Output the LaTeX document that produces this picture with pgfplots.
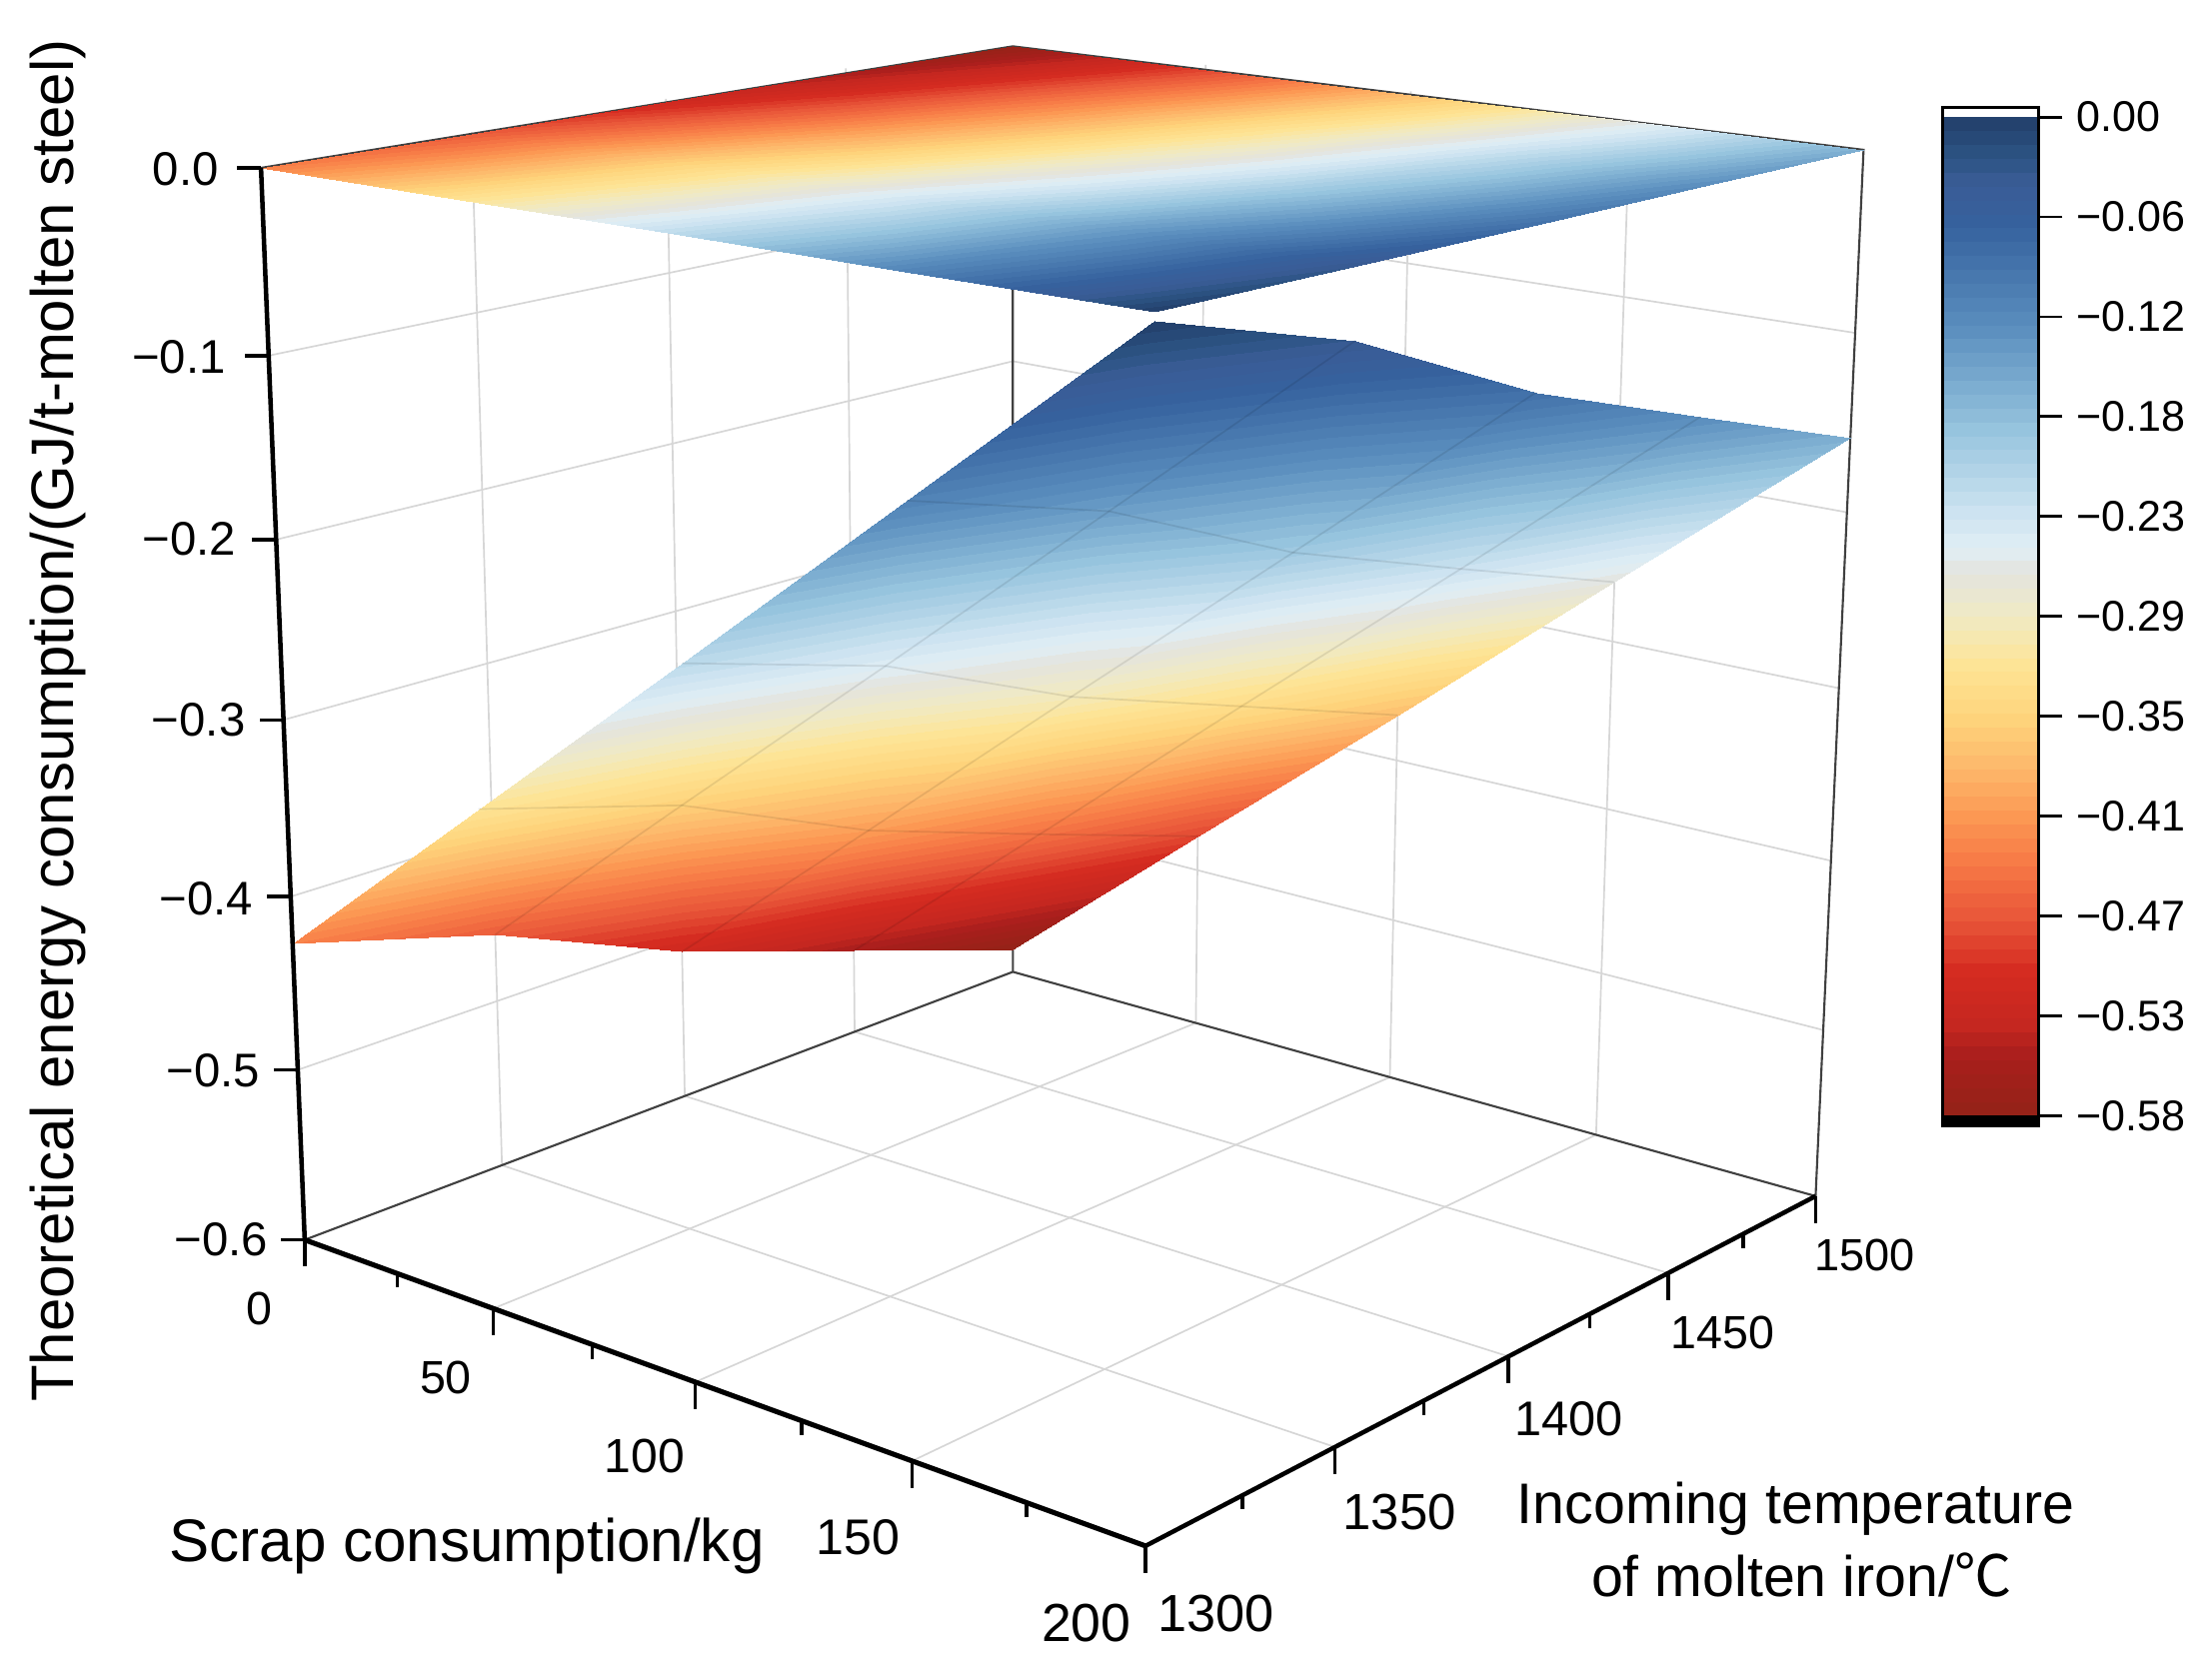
\documentclass[border=0pt]{standalone}
\usepackage{fontspec}
\setmainfont{Liberation Sans}
\newfontfamily\cjk{Noto Sans CJK SC}
\usepackage{pgfplots}
\usepackage{pgfplotstable}
\pgfplotsset{compat=1.18}

% colour scale, position = (value+0.58)*1000
\pgfplotsset{
  colormap={rb}{
    rgb255(0)=(150,34,24) rgb255(30)=(168,30,28) rgb255(50)=(198,40,32)
    rgb255(80)=(212,42,32) rgb255(110)=(232,84,56) rgb255(140)=(245,116,68)
    rgb255(170)=(252,150,82) rgb255(200)=(253,183,106) rgb255(230)=(254,212,124)
    rgb255(260)=(254,228,148) rgb255(290)=(240,234,196) rgb255(315)=(228,228,222)
    rgb255(330)=(224,238,245) rgb255(350)=(206,228,241) rgb255(400)=(150,196,222)
    rgb255(460)=(90,142,190) rgb255(520)=(54,98,158) rgb255(545)=(58,92,150)
    rgb255(560)=(44,84,132) rgb255(580)=(36,66,110)
  },
  colormap={bands}{samples of colormap=(72 of rb)},
}

% perspective of the 3D box onto the picture, in reference pixels
\pgfplotsset{
  /pgf/declare function={
    dn(\a,\b,\c)=1-0.13252*\a/200+0.15808*(\b-1300)/200-0.058*(\c+0.6)/0.6;
    px(\a,\b,\c)=(216+488.39*\a/200+615.5*(\b-1300)/200-41.73*(\c+0.6)/0.6)/dn(\a,\b,\c);
    py(\a,\b,\c)=(879+71.76*\a/200-81.08*(\b-1300)/200-766.9*(\c+0.6)/0.6)/dn(\a,\b,\c);
  },
  /pgfplots/table/proj/.style={
    x expr={px(\thisrow{x},\thisrow{y},\thisrow{z})},
    y expr={py(\thisrow{x},\thisrow{y},\thisrow{z})},
    row sep=\\,
  },
  /pgfplots/table/projtop/.style={
    x expr={px(\thisrow{x},\thisrow{y},\thisrow{zt})},
    y expr={py(\thisrow{x},\thisrow{y},\thisrow{zt})},
  },
  /pgfplots/table/projlow/.style={
    x expr={px(\thisrow{x},\thisrow{y},\thisrow{z})},
    y expr={py(\thisrow{x},\thisrow{y},\thisrow{z})},
  },
  /pgfplots/table/projtick/.style={
    x expr={px(\thisrow{x},\thisrow{y},\thisrow{z})+\thisrow{dx}},
    y expr={py(\thisrow{x},\thisrow{y},\thisrow{z})+\thisrow{dy}},
    row sep=\\,
  },
  gridline/.style={color=black!16,line width=1.2pt},
  meshline/.style={color=black,opacity=0.09,line width=1.2pt},
  edge/.style={color=black!75,line width=1.5pt},
  axline/.style={color=black,line width=3.2pt},
  tickline/.style={color=black,line width=2.4pt},
}

\pgfplotstableread{
x y z zt
0 1300 -0.427 0
50 1300 -0.320 0.001
100 1300 -0.214 0.002
150 1300 -0.107 0.003
200 1300 0.000 0.004
0 1350 -0.460 -0.001
50 1350 -0.353 0
100 1350 -0.247 0.001
150 1350 -0.140 0.002
200 1350 -0.033 0.003
0 1400 -0.509 -0.002
50 1400 -0.403 -0.001
100 1400 -0.296 0
150 1400 -0.190 0.001
200 1400 -0.083 0.002
0 1450 -0.547 -0.003
50 1450 -0.441 -0.002
100 1450 -0.334 -0.001
150 1450 -0.228 0
200 1450 -0.121 0.001
0 1500 -0.585 -0.004
50 1500 -0.478 -0.003
100 1500 -0.372 -0.002
150 1500 -0.265 -0.001
200 1500 -0.158 0
}\surfdata

\begin{document}
\begin{tikzpicture}
\useasboundingbox (0pt,0pt) rectangle (1568pt,1190pt);
\begin{axis}[
    name=main,
    at={(0pt,0pt)}, anchor=south west,
    scale only axis, width=1568pt, height=1190pt,
    xmin=0, xmax=1568, ymin=0, ymax=1190, y dir=reverse,
    axis lines=none,
    clip=false,
    point meta min=-0.58, point meta max=0,
    colormap name=bands,
    colormap access=piecewise constant,
]
% walls and floor grid
\pgfplotsinvokeforeach{-0.5,-0.4,-0.3,-0.2,-0.1}{
  \addplot[gridline] table[proj] {x y z\\ 0 1300 #1\\ 0 1500 #1\\ 200 1500 #1\\};
}
\pgfplotsinvokeforeach{1350,1400,1450}{
  \addplot[gridline] table[proj] {x y z\\ 0 #1 -0.6\\ 0 #1 0\\};
  \addplot[gridline] table[proj] {x y z\\ 0 #1 -0.6\\ 200 #1 -0.6\\};
}
\pgfplotsinvokeforeach{50,100,150}{
  \addplot[gridline] table[proj] {x y z\\ #1 1500 -0.6\\ #1 1500 0\\};
  \addplot[gridline] table[proj] {x y z\\ #1 1300 -0.6\\ #1 1500 -0.6\\};
}
% box edges behind the surfaces
\addplot[edge] table[proj] {x y z\\ 0 1300 -0.6\\ 0 1500 -0.6\\ 200 1500 -0.6\\ 200 1500 0\\ 0 1500 -0.004\\ 0 1300 0\\};
\addplot[edge] table[proj] {x y z\\ 0 1500 -0.6\\ 0 1500 -0.004\\};
% surfaces
\addplot[surf, shader=interp, mesh/rows=5, mesh/cols=5, point meta=\thisrow{z}] table[projlow] {\surfdata};
% mesh lines on the lower surface
\pgfplotsinvokeforeach{1350,1400,1450}{
  \addplot[meshline, restrict expr to domain={\thisrow{y}}{#1:#1}] table[projlow] {\surfdata};
}
\addplot[meshline] table[proj] {x y z\\ 50 1300 -0.320\\ 50 1350 -0.353\\ 50 1400 -0.403\\ 50 1450 -0.441\\ 50 1500 -0.478\\};
\addplot[meshline] table[proj] {x y z\\ 100 1300 -0.214\\ 100 1350 -0.247\\ 100 1400 -0.296\\ 100 1450 -0.334\\ 100 1500 -0.372\\};
\addplot[meshline] table[proj] {x y z\\ 150 1300 -0.107\\ 150 1350 -0.140\\ 150 1400 -0.190\\ 150 1450 -0.228\\ 150 1500 -0.265\\};
\addplot[surf, shader=interp, mesh/rows=5, mesh/cols=5, point meta=\thisrow{z}] table[projtop] {\surfdata};
% front axes
\addplot[axline] table[proj] {x y z\\ 0 1300 0\\ 0 1300 -0.6\\};
\addplot[axline, line width=3.6pt] table[proj] {x y z\\ 0 1300 -0.6\\ 200 1300 -0.6\\};
\addplot[axline] table[proj] {x y z\\ 200 1300 -0.6\\ 200 1500 -0.6\\};
% ticks
\pgfplotsinvokeforeach{0,-0.1,-0.2,-0.3,-0.4,-0.5,-0.6}{
  \addplot[tickline] table[projtick] {x y z dx dy\\ 0 1300 #1 0 0\\ 0 1300 #1 -17 0\\};
}
\pgfplotsinvokeforeach{0,50,100,150,200}{
  \addplot[tickline] table[projtick] {x y z dx dy\\ #1 1300 -0.6 0 0\\ #1 1300 -0.6 0 19\\};
}
\pgfplotsinvokeforeach{25,75,125,175}{
  \addplot[tickline] table[projtick] {x y z dx dy\\ #1 1300 -0.6 0 0\\ #1 1300 -0.6 0 10\\};
}
\pgfplotsinvokeforeach{1300,1350,1400,1450,1500}{
  \addplot[tickline] table[projtick] {x y z dx dy\\ 200 #1 -0.6 0 0\\ 200 #1 -0.6 0 19\\};
}
\pgfplotsinvokeforeach{1325,1375,1425,1475}{
  \addplot[tickline] table[projtick] {x y z dx dy\\ 200 #1 -0.6 0 0\\ 200 #1 -0.6 0 10\\};
}
% tick labels
\node[font=\fontsize{33.5}{38}\selectfont,anchor=east,inner sep=0] at (axis cs:155,120) {0.0};
\node[font=\fontsize{33.5}{38}\selectfont,anchor=east,inner sep=0] at (axis cs:160,253) {−0.1};
\node[font=\fontsize{33.5}{38}\selectfont,anchor=east,inner sep=0] at (axis cs:167.5,382) {−0.2};
\node[font=\fontsize{33.5}{38}\selectfont,anchor=east,inner sep=0] at (axis cs:174,510) {−0.3};
\node[font=\fontsize{33.5}{38}\selectfont,anchor=east,inner sep=0] at (axis cs:179.5,637) {−0.4};
\node[font=\fontsize{33.5}{38}\selectfont,anchor=east,inner sep=0] at (axis cs:184.5,759) {−0.5};
\node[font=\fontsize{33.5}{38}\selectfont,anchor=east,inner sep=0] at (axis cs:190,879) {−0.6};
\node[font=\fontsize{33}{38}\selectfont] at (axis cs:184,928) {0};
\node[font=\fontsize{33}{38}\selectfont] at (axis cs:316,977) {50};
\node[font=\fontsize{34}{38}\selectfont] at (axis cs:457,1032) {100};
\node[font=\fontsize{35.5}{40}\selectfont] at (axis cs:608,1090) {150};
\node[font=\fontsize{38}{42}\selectfont] at (axis cs:770,1151) {200};
\node[font=\fontsize{37}{42}\selectfont] at (axis cs:862,1144) {1300};
\node[font=\fontsize{36}{40}\selectfont] at (axis cs:992,1072) {1350};
\node[font=\fontsize{34.5}{40}\selectfont] at (axis cs:1112,1006) {1400};
\node[font=\fontsize{33}{38}\selectfont] at (axis cs:1221,945) {1450};
\node[font=\fontsize{32}{38}\selectfont] at (axis cs:1322,890) {1500};
% axis titles
\node[font=\fontsize{42.5}{48}\selectfont,rotate=90] at (axis cs:41,511) {Theoretical energy consumption/(GJ/t-molten steel)};
\node[font=\fontsize{42.6}{48}\selectfont] at (axis cs:331,1096) {Scrap consumption/kg};
\node[font=\fontsize{40.6}{48}\selectfont] at (axis cs:1273,1070) {Incoming temperature};
\node[font=\fontsize{40.6}{48}\selectfont] at (axis cs:1277,1117) {of molten iron/{\cjk ℃}};
\end{axis}

% colour bar
\begin{axis}[
    at={(1377pt,392pt)}, anchor=south west,
    scale only axis, width=68pt, height=722pt,
    xmin=0, xmax=1, ymin=-0.58573, ymax=0.00573,
    xtick=\empty,
    ytick={-0.58,-0.522,-0.464,-0.406,-0.348,-0.29,-0.232,-0.174,-0.116,-0.058,0},
    yticklabels={−0.58,−0.53,−0.47,−0.41,−0.35,−0.29,−0.23,−0.18,−0.12,−0.06,0.00},
    ytick pos=right, yticklabel pos=right,
    tick align=outside, major tick length=17pt,
    tick style={black,line width=2pt},
    axis line style={line width=2.2pt},
    yticklabel style={font=\fontsize{30.5}{34}\selectfont, inner sep=0pt, xshift=10pt},
    point meta min=-0.58, point meta max=0,
    colormap name=bands,
    colormap access=piecewise constant,
    axis on top,
]
\addplot[surf, shader=interp, mesh/rows=2, mesh/cols=2, point meta=y] coordinates {(0,-0.58) (1,-0.58) (0,0) (1,0)};
\addplot[fill=black, draw=none] coordinates {(0,-0.58573) (1,-0.58573) (1,-0.58) (0,-0.58)} -- cycle;
\end{axis}
\end{tikzpicture}
\end{document}
